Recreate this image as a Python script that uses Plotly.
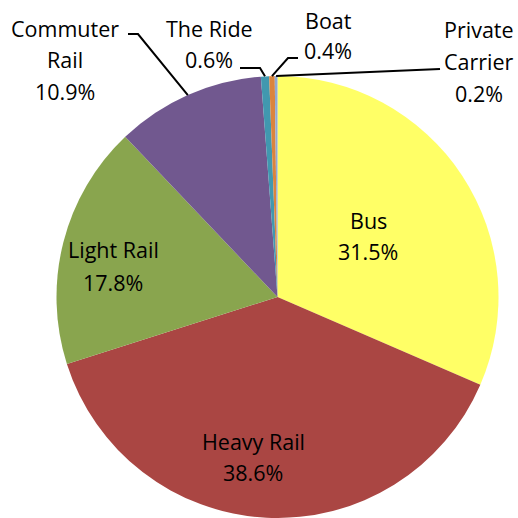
import math
import plotly.graph_objects as go

# Share of transit trips by mode
modes = ["Bus", "Heavy Rail", "Light Rail", "Commuter Rail", "The Ride", "Boat", "Private Carrier"]
shares = [31.5, 38.6, 17.8, 10.9, 0.6, 0.4, 0.2]
colors = ["#FFFF66", "#AA4643", "#89A54E", "#71588F", "#4198AF", "#DB843D", "#93A9CF"]

# Label text lines (name split as drawn) and label centre positions in pixels
label_lines = [["Bus"], ["Heavy Rail"], ["Light Rail"], ["Commuter", "Rail"], ["The Ride"], ["Boat"], ["Private", "Carrier"]]
label_pos = [(368, 221), (253, 441), (113, 250), (65, 28), (209, 28), (328, 20), (479, 30)]
line_pitch = [30, 31, 32, 32, 32, 30, 32]
# Elbow points of leader lines for outside labels (None = label sits inside slice)
leader_start = [None, None, None, [(128, 34), (138, 34)], [(240, 68), (260, 68)], [(298, 58), (288, 58)], [(440, 69)]]

W = H = 518
FONT = "Open Sans"
FS = 21.5

# Pie geometry in pixels
top_px, bottom_px = 76, 518
cx = 277.5
r = (bottom_px - top_px) / 2
cy = top_px + r
dom_x = [(cx - r) / W, (cx + r) / W]
dom_y = [1 - bottom_px / H, 1 - top_px / H]

fig = go.Figure(go.Pie(
    labels=modes,
    values=shares,
    sort=False,
    direction="clockwise",
    rotation=0,
    marker=dict(colors=colors, line=dict(width=0)),
    textinfo="none",
    hoverinfo="label+percent",
    domain=dict(x=dom_x, y=dom_y),
    showlegend=False,
))

def px_to_paper(x, y):
    return x / W, 1 - y / H

annotations = []
shapes = []
total = sum(shares)
cum = 0.0
for name_lines, val, (lx, ly), pitch, lead in zip(label_lines, shares, label_pos, line_pitch, leader_start):
    lines = name_lines + [f"{val:.1f}%"]
    for i, txt in enumerate(lines):
        px, py = px_to_paper(lx, ly + i * pitch)
        annotations.append(dict(
            x=px, y=py, xref="paper", yref="paper", text=txt, showarrow=False,
            xanchor="center", yanchor="middle",
            font=dict(family=FONT, size=FS, color="#000000"),
        ))
    # slice mid-angle (clockwise from 12 o'clock)
    mid = (cum + val / 2) / total * 2 * math.pi
    cum += val
    if lead is not None:
        ex = cx + r * math.sin(mid)
        ey = cy - r * math.cos(mid)
        pts = lead + [(ex, ey)]
        path = "M " + " L ".join(f"{px_to_paper(x, y)[0]:.5f},{px_to_paper(x, y)[1]:.5f}" for x, y in pts)
        shapes.append(dict(type="path", path=path, xref="paper", yref="paper",
                           line=dict(color="#000000", width=2)))

fig.update_layout(
    width=W, height=H,
    margin=dict(l=0, r=0, t=0, b=0),
    paper_bgcolor="#FFFFFF",
    plot_bgcolor="#FFFFFF",
    annotations=annotations,
    shapes=shapes,
)

fig.write_html("out.html")
